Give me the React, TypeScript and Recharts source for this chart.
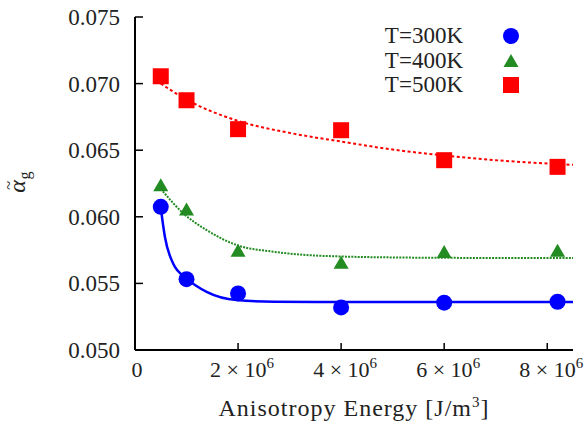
import { ComposedChart, Legend, Line, Scatter, XAxis, YAxis } from "recharts";

// measured points
const energies = [0.5e6, 1e6, 2e6, 4e6, 6e6, 8.2e6];
const alpha300 = [0.06075, 0.05532, 0.05425, 0.0532, 0.05355, 0.05362];
const alpha400 = [0.06237, 0.06055, 0.05745, 0.05655, 0.05735, 0.05745];
const alpha500 = [0.07055, 0.06875, 0.06658, 0.0665, 0.06425, 0.06375];

// fitted curves
const fitX300 = [0.5e6, 0.58e6, 0.74e6, 1.0e6, 1.39e6, 1.97e6, 2.7e6, 4e6, 6e6, 8.5e6];
const fitY300 = [0.0607, 0.0585, 0.0565, 0.05538, 0.05437, 0.05375, 0.05362, 0.0536, 0.0536, 0.0536];
const fitX400 = [0.5e6, 0.94e6, 1.39e6, 1.97e6, 2.7e6, 3.33e6, 4e6, 5e6, 6e6, 8.5e6];
const fitY400 = [0.0621, 0.06025, 0.059, 0.05788, 0.05737, 0.05713, 0.05702, 0.05695, 0.05692, 0.0569];
const fitX500 = [0.5e6, 1e6, 2e6, 3e6, 4e6, 5e6, 6e6, 7e6, 8.5e6];
const fitY500 = [0.07, 0.0688, 0.0672, 0.0663, 0.06565, 0.06505, 0.0646, 0.06425, 0.0639];

const seriesNames = ["T=300K", "T=400K", "T=500K"];
const xTicks = [0, 2e6, 4e6, 6e6, 8e6];
const yTicks = [0.05, 0.055, 0.06, 0.065, 0.07, 0.075];

const BLUE = "#0000ff";
const GREEN = "#228b22";
const RED = "#ff0000";
const INK = "#222";
const FONT = "Liberation Serif, DejaVu Serif, serif";

const toPoints = (xs: number[], ys: number[]) => xs.map((x, i) => ({ x, y: ys[i] }));

const CircleDot = (p: any) => <circle cx={p.cx} cy={p.cy} r={8} fill={BLUE} />;
const TriangleDot = (p: any) => (
  <polygon
    points={`${p.cx},${p.cy - 7} ${p.cx + 7.5},${p.cy + 6} ${p.cx - 7.5},${p.cy + 6}`}
    fill={GREEN}
  />
);
const SquareDot = (p: any) => <rect x={p.cx - 8} y={p.cy - 8} width={16} height={16} fill={RED} />;

const YTick = (p: any) => (
  <g>
    <line x1={p.x} x2={p.x + 8} y1={p.y} y2={p.y} stroke="#000" strokeWidth={1.5} />
    <text x={p.x - 15} y={p.y} dy="0.35em" textAnchor="end" style={{ fontFamily: FONT }} fontSize={23} fill={INK}>
      {p.payload.value.toFixed(3)}
    </text>
  </g>
);

const XTick = (p: any) => {
  const v = p.payload.value;
  return (
    <g>
      <line x1={p.x} x2={p.x} y1={p.y} y2={p.y - 7} stroke="#000" strokeWidth={1.5} />
      {v === 0 ? (
        <text x={p.x + 2} y={p.y + 27} textAnchor="middle" style={{ fontFamily: FONT }} fontSize={22} fill={INK}>
          0
        </text>
      ) : (
        <text x={p.x + 4} y={p.y + 27} textAnchor="middle" style={{ fontFamily: FONT }} fontSize={22} fill={INK}>
          {`${v / 1e6} × 10`}
          <tspan dy={-9} fontSize={15}>6</tspan>
        </text>
      )}
    </g>
  );
};

const renderAlphaLabel = (props: any) => {
  const vb = props.viewBox ?? { x: 0, y: 17, width: 135, height: 333 };
  const cx = vb.x + 25;
  const cy = vb.y + vb.height / 2;
  return (
    <g transform={`rotate(-90, ${cx}, ${cy})`}>
      <text x={cx - 2} y={cy - 11} textAnchor="middle" style={{ fontFamily: FONT }} fontSize={17} fill={INK}>
        ~
      </text>
      <text x={cx - 3} y={cy} textAnchor="middle" style={{ fontFamily: FONT }} fontSize={24} fontStyle="italic" fill={INK}>
        α
      </text>
      <text x={cx + 8} y={cy + 5} textAnchor="middle" style={{ fontFamily: FONT }} fontSize={16} fill={INK}>
        g
      </text>
    </g>
  );
};

const renderEnergyLabel = (props: any) => {
  const vb = props.viewBox ?? { x: 135, y: 350, width: 438, height: 75 };
  return (
    <text
      x={vb.x + vb.width / 2}
      y={vb.y + 66}
      textAnchor="middle"
      style={{ fontFamily: FONT }}
      fontSize={24}
      fill={INK}
      letterSpacing={1}
    >
      Anisotropy Energy [J/m
      <tspan dy={-9} fontSize={15}>3</tspan>
      <tspan dy={9}>]</tspan>
    </text>
  );
};

const legendMarker = (type: string, color: string) => {
  if (type === "triangle") return <polygon points="10,3 17.5,16 2.5,16" fill={color} />;
  if (type === "square") return <rect x={2} y={2} width={16} height={16} fill={color} />;
  return <circle cx={10} cy={10} r={8} fill={color} />;
};

const renderLegend = (props: any) => {
  const items = (props.payload ?? []).filter((e: any) => e.type !== "none");
  return (
    <div style={{ fontFamily: FONT, fontSize: 23, color: INK }}>
      {items.map((e: any, i: number) => (
        <div key={i} style={{ display: "flex", alignItems: "center", height: 24.5 }}>
          <span style={{ width: 103, textAlign: "right", lineHeight: "24.5px" }}>{e.value}</span>
          <svg width={20} height={20} style={{ marginLeft: 38 }}>
            {legendMarker(e.type, e.color)}
          </svg>
        </div>
      ))}
    </div>
  );
};

export default function App() {
  return (
    <div style={{ position: "absolute", left: 0, top: 0, background: "#fff" }}>
      <ComposedChart width={585} height={425} margin={{ top: 17, right: 12, bottom: 0, left: 0 }}>
        <XAxis
          type="number"
          dataKey="x"
          domain={[0, 8.5e6]}
          ticks={xTicks}
          interval={0}
          allowDataOverflow
          height={75}
          tickSize={0}
          tickMargin={0}
          tickLine={false}
          tick={<XTick />}
          axisLine={{ stroke: "#000", strokeWidth: 2 }}
          label={{ content: renderEnergyLabel }}
        />
        <YAxis
          type="number"
          dataKey="y"
          domain={[0.05, 0.075]}
          ticks={yTicks}
          interval={0}
          allowDataOverflow
          width={135}
          tickSize={0}
          tickMargin={0}
          tickLine={false}
          tick={<YTick />}
          axisLine={{ stroke: "#000", strokeWidth: 2 }}
          label={{ content: renderAlphaLabel }}
        />
        <Line
          data={toPoints(fitX300, fitY300)}
          dataKey="y"
          type="monotone"
          stroke={BLUE}
          strokeWidth={2.5}
          dot={false}
          legendType="none"
          isAnimationActive={false}
        />
        <Line
          data={toPoints(fitX400, fitY400)}
          dataKey="y"
          type="monotone"
          stroke={GREEN}
          strokeWidth={2}
          strokeDasharray="2 1.2"
          dot={false}
          legendType="none"
          isAnimationActive={false}
        />
        <Line
          data={toPoints(fitX500, fitY500)}
          dataKey="y"
          type="monotone"
          stroke={RED}
          strokeWidth={2}
          strokeDasharray="3 2.5"
          dot={false}
          legendType="none"
          isAnimationActive={false}
        />
        <Scatter
          name={seriesNames[0]}
          data={toPoints(energies, alpha300)}
          dataKey="y"
          fill={BLUE}
          shape={CircleDot}
          legendType="circle"
          isAnimationActive={false}
        />
        <Scatter
          name={seriesNames[1]}
          data={toPoints(energies, alpha400)}
          dataKey="y"
          fill={GREEN}
          shape={TriangleDot}
          legendType="triangle"
          isAnimationActive={false}
        />
        <Scatter
          name={seriesNames[2]}
          data={toPoints(energies, alpha500)}
          dataKey="y"
          fill={RED}
          shape={SquareDot}
          legendType="square"
          isAnimationActive={false}
        />
        <Legend
          layout="vertical"
          align="center"
          verticalAlign="middle"
          content={renderLegend}
          wrapperStyle={{ position: "absolute", left: 360, top: 24, width: 180, height: 80 }}
        />
      </ComposedChart>
    </div>
  );
}
